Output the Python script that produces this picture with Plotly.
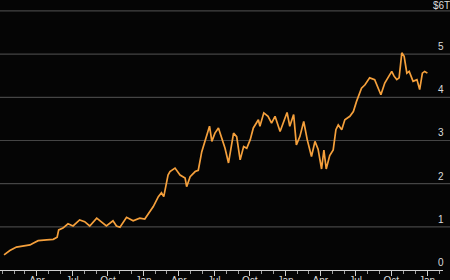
import plotly.graph_objects as go

dates = [
    "2023-01-06", "2023-01-21", "2023-02-07", "2023-02-24", "2023-03-14", "2023-03-22",
    "2023-04-04", "2023-04-26", "2023-05-13", "2023-05-23", "2023-05-27", "2023-06-07",
    "2023-06-20", "2023-07-03", "2023-07-20", "2023-08-02", "2023-08-15", "2023-09-02",
    "2023-09-19", "2023-09-27", "2023-10-14", "2023-10-23", "2023-11-01", "2023-11-18",
    "2023-12-05", "2023-12-22", "2024-01-04", "2024-01-13", "2024-01-26", "2024-02-08",
    "2024-02-16", "2024-02-22", "2024-02-29", "2024-03-04", "2024-03-09", "2024-03-22",
    "2024-04-04", "2024-04-17", "2024-04-21", "2024-04-30", "2024-05-13", "2024-05-21",
    "2024-05-30", "2024-06-08", "2024-06-19", "2024-06-25", "2024-07-03", "2024-07-12",
    "2024-07-21", "2024-07-29", "2024-08-07", "2024-08-20", "2024-08-28", "2024-09-06",
    "2024-09-15", "2024-09-23", "2024-10-02", "2024-10-10", "2024-10-23", "2024-10-27",
    "2024-11-06", "2024-11-17", "2024-11-26", "2024-12-05", "2024-12-18", "2024-12-26",
    "2025-01-05", "2025-01-12", "2025-01-22", "2025-01-29", "2025-02-07", "2025-02-17",
    "2025-02-26", "2025-03-09", "2025-03-18", "2025-03-26", "2025-04-04", "2025-04-10",
    "2025-04-16", "2025-04-25", "2025-05-04", "2025-05-11", "2025-05-17", "2025-05-26",
    "2025-06-03", "2025-06-16", "2025-06-25", "2025-07-03", "2025-07-16", "2025-07-25",
    "2025-08-06", "2025-08-19", "2025-08-28", "2025-09-04", "2025-09-14", "2025-09-23",
    "2025-10-02", "2025-10-08", "2025-10-15", "2025-10-21", "2025-10-28", "2025-11-03",
    "2025-11-10", "2025-11-16", "2025-11-26", "2025-12-06", "2025-12-13", "2025-12-20",
    "2025-12-26", "2026-01-02",
]
market_cap = [
    0.35, 0.45, 0.53, 0.56, 0.58, 0.62,
    0.68, 0.70, 0.71, 0.76, 0.93, 0.97,
    1.07, 1.02, 1.16, 1.12, 1.02, 1.20,
    1.08, 1.02, 1.14, 1.02, 0.99, 1.22,
    1.14, 1.20, 1.18, 1.31, 1.47, 1.70,
    1.79, 1.70, 2.01, 2.20, 2.28, 2.36,
    2.20, 2.13, 1.93, 2.16, 2.28, 2.31,
    2.74, 3.02, 3.33, 2.98, 3.17, 3.29,
    3.02, 2.82, 2.48, 3.17, 3.09, 2.55,
    2.86, 2.82, 3.02, 3.29, 3.48, 3.33,
    3.64, 3.56, 3.40, 3.56, 3.21, 3.40,
    3.65, 3.33, 3.60, 2.90, 3.09, 3.44,
    3.02, 2.63, 2.98, 2.80, 2.34, 2.78,
    2.34, 2.65, 2.78, 3.25, 3.36, 3.25,
    3.48, 3.56, 3.67, 3.90, 4.21, 4.29,
    4.45, 4.41, 4.21, 4.06, 4.33, 4.45,
    4.60, 4.49, 4.41, 4.45, 5.03, 4.95,
    4.56, 4.60, 4.37, 4.41, 4.18, 4.56,
    4.60, 4.56,
]
y_ticks = [0, 1, 2, 3, 4, 5, 6]
y_labels = ["0", "1", "2", "3", "4", "5", "$6T"]
x_tickvals = ["2023-04-01", "2023-07-01", "2023-10-01", "2024-01-01", "2024-04-01",
              "2024-07-01", "2024-10-01", "2025-01-01", "2025-04-01", "2025-07-01",
              "2025-10-01", "2026-01-01"]
x_ticktext = ["Apr", "Jul", "Oct", "Jan", "Apr", "Jul", "Oct", "Jan", "Apr", "Jul", "Oct", "Jan"]

fig = go.Figure()
fig.add_trace(go.Scatter(x=dates, y=market_cap, mode="lines",
                         line=dict(color="#f5a03c", width=1.7), hoverinfo="skip"))

shapes = []
for v in y_ticks[1:]:
    shapes.append(dict(type="line", xref="paper", x0=0, x1=1, yref="y", y0=v, y1=v,
                       line=dict(color="#454545", width=1.2), layer="below"))
annotations = []
for v, t in zip(y_ticks, y_labels):
    annotations.append(dict(xref="paper", x=441 / 450, y=v, yref="y", text=t,
                            showarrow=False, xanchor="center", yanchor="bottom",
                            yshift=(-2 if v == 6 else 0),
                            font=dict(color="#dcdcdc", size=10, family="Liberation Sans")))

fig.update_layout(
    width=450, height=280,
    margin=dict(l=0, r=0, t=0, b=10, autoexpand=False),
    paper_bgcolor="#050505", plot_bgcolor="#050505",
    showlegend=False,
    shapes=shapes, annotations=annotations,
    xaxis=dict(domain=[0, 443 / 450], range=["2022-12-26 14:00", "2026-02-11 05:00"],
               automargin=False,
               showgrid=False, zeroline=False, showline=True, linecolor="#d0d0d0", linewidth=1.2,
               tickmode="array", tickvals=x_tickvals, ticktext=x_ticktext,
               ticks="outside", ticklen=5, tickcolor="#d0d0d0", tickwidth=1,
               ticklabelstandoff=-4,
               tickfont=dict(color="#dcdcdc", size=10, family="Liberation Sans"),
               minor=dict(ticks="outside", ticklen=3, tickcolor="#a0a0a0", dtick="M1",
                          tick0="2023-01-01", showgrid=False)),
    yaxis=dict(range=[0, 6.254], showgrid=False, zeroline=False, showticklabels=False,
               showline=False, automargin=False),
)
fig.write_html("out.html")
